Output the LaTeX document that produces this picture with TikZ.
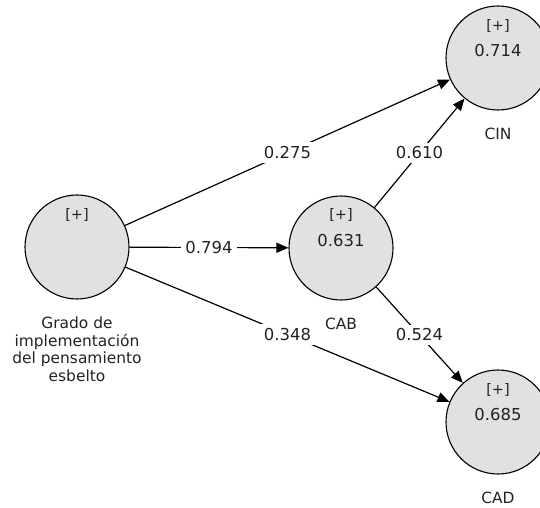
\documentclass[tikz,border=0pt]{standalone}
\usepackage{fontspec}
\setmainfont{DejaVu Sans}
\usetikzlibrary{arrows.meta, positioning}
\definecolor{lvfill}{HTML}{E1E1E1}
\definecolor{txtgray}{HTML}{222222}

\begin{document}
\begin{tikzpicture}[
  x=1bp, y=1bp,
  lv/.style={draw, circle, fill=lvfill, minimum size=104bp, inner sep=0pt, line width=1.1bp},
  tag/.style={font=\fontsize{14.5}{16}\selectfont, text=txtgray, inner sep=1bp},
  val/.style={font=\fontsize{16.5}{18}\selectfont, text=txtgray, inner sep=1bp},
  nm/.style={font=\fontsize{15.5}{17.5}\selectfont, text=txtgray, align=center, inner sep=2bp},
  coef/.style={fill=white, font=\fontsize{16.5}{18}\selectfont, text=txtgray, inner xsep=4bp, inner ysep=4bp},
  >={Triangle[length=12bp, width=10bp]}, line width=1.2bp, node distance=15bp
]
\useasboundingbox (0,0) rectangle (540,-508);

% latent variables
\node[lv] (gpe) at (77,-247) {};
\node[lv] (cab) at (341,-248) {};
\node[lv] (cin) at (498,-58) {};
\node[lv] (cad) at (498,-422) {};

\node[tag] (gpetag) at ([yshift=32bp]gpe.center) {[+]};
\node[tag] (cabtag) at ([yshift=33bp]cab.center) {[+]};
\node[val] (cabval) at ([yshift=7bp]cab.center) {0.631};
\node[tag] (cintag) at ([yshift=32bp]cin.center) {[+]};
\node[val] (cinval) at ([yshift=7bp]cin.center) {0.714};
\node[tag] (cadtag) at ([yshift=32bp]cad.center) {[+]};
\node[val] (cadval) at ([yshift=7bp]cad.center) {0.685};

% names
\node[nm, below=of gpe] (gpename) {Grado de\\implementación\\del pensamiento\\esbelto};
\node[nm, below=of cab] (cabname) {CAB};
\node[nm, below=of cin] (cinname) {CIN};
\node[nm, below=of cad] (cadname) {CAD};

% paths
\draw[->] (gpe) -- node[coef]{0.275} (cin);
\draw[->] (gpe) -- node[coef]{0.794} (cab);
\draw[->] (gpe) -- node[coef]{0.348} (cad);
\draw[->] (cab) -- node[coef]{0.610} (cin);
\draw[->] (cab) -- node[coef]{0.524} (cad);
\end{tikzpicture}
\end{document}
